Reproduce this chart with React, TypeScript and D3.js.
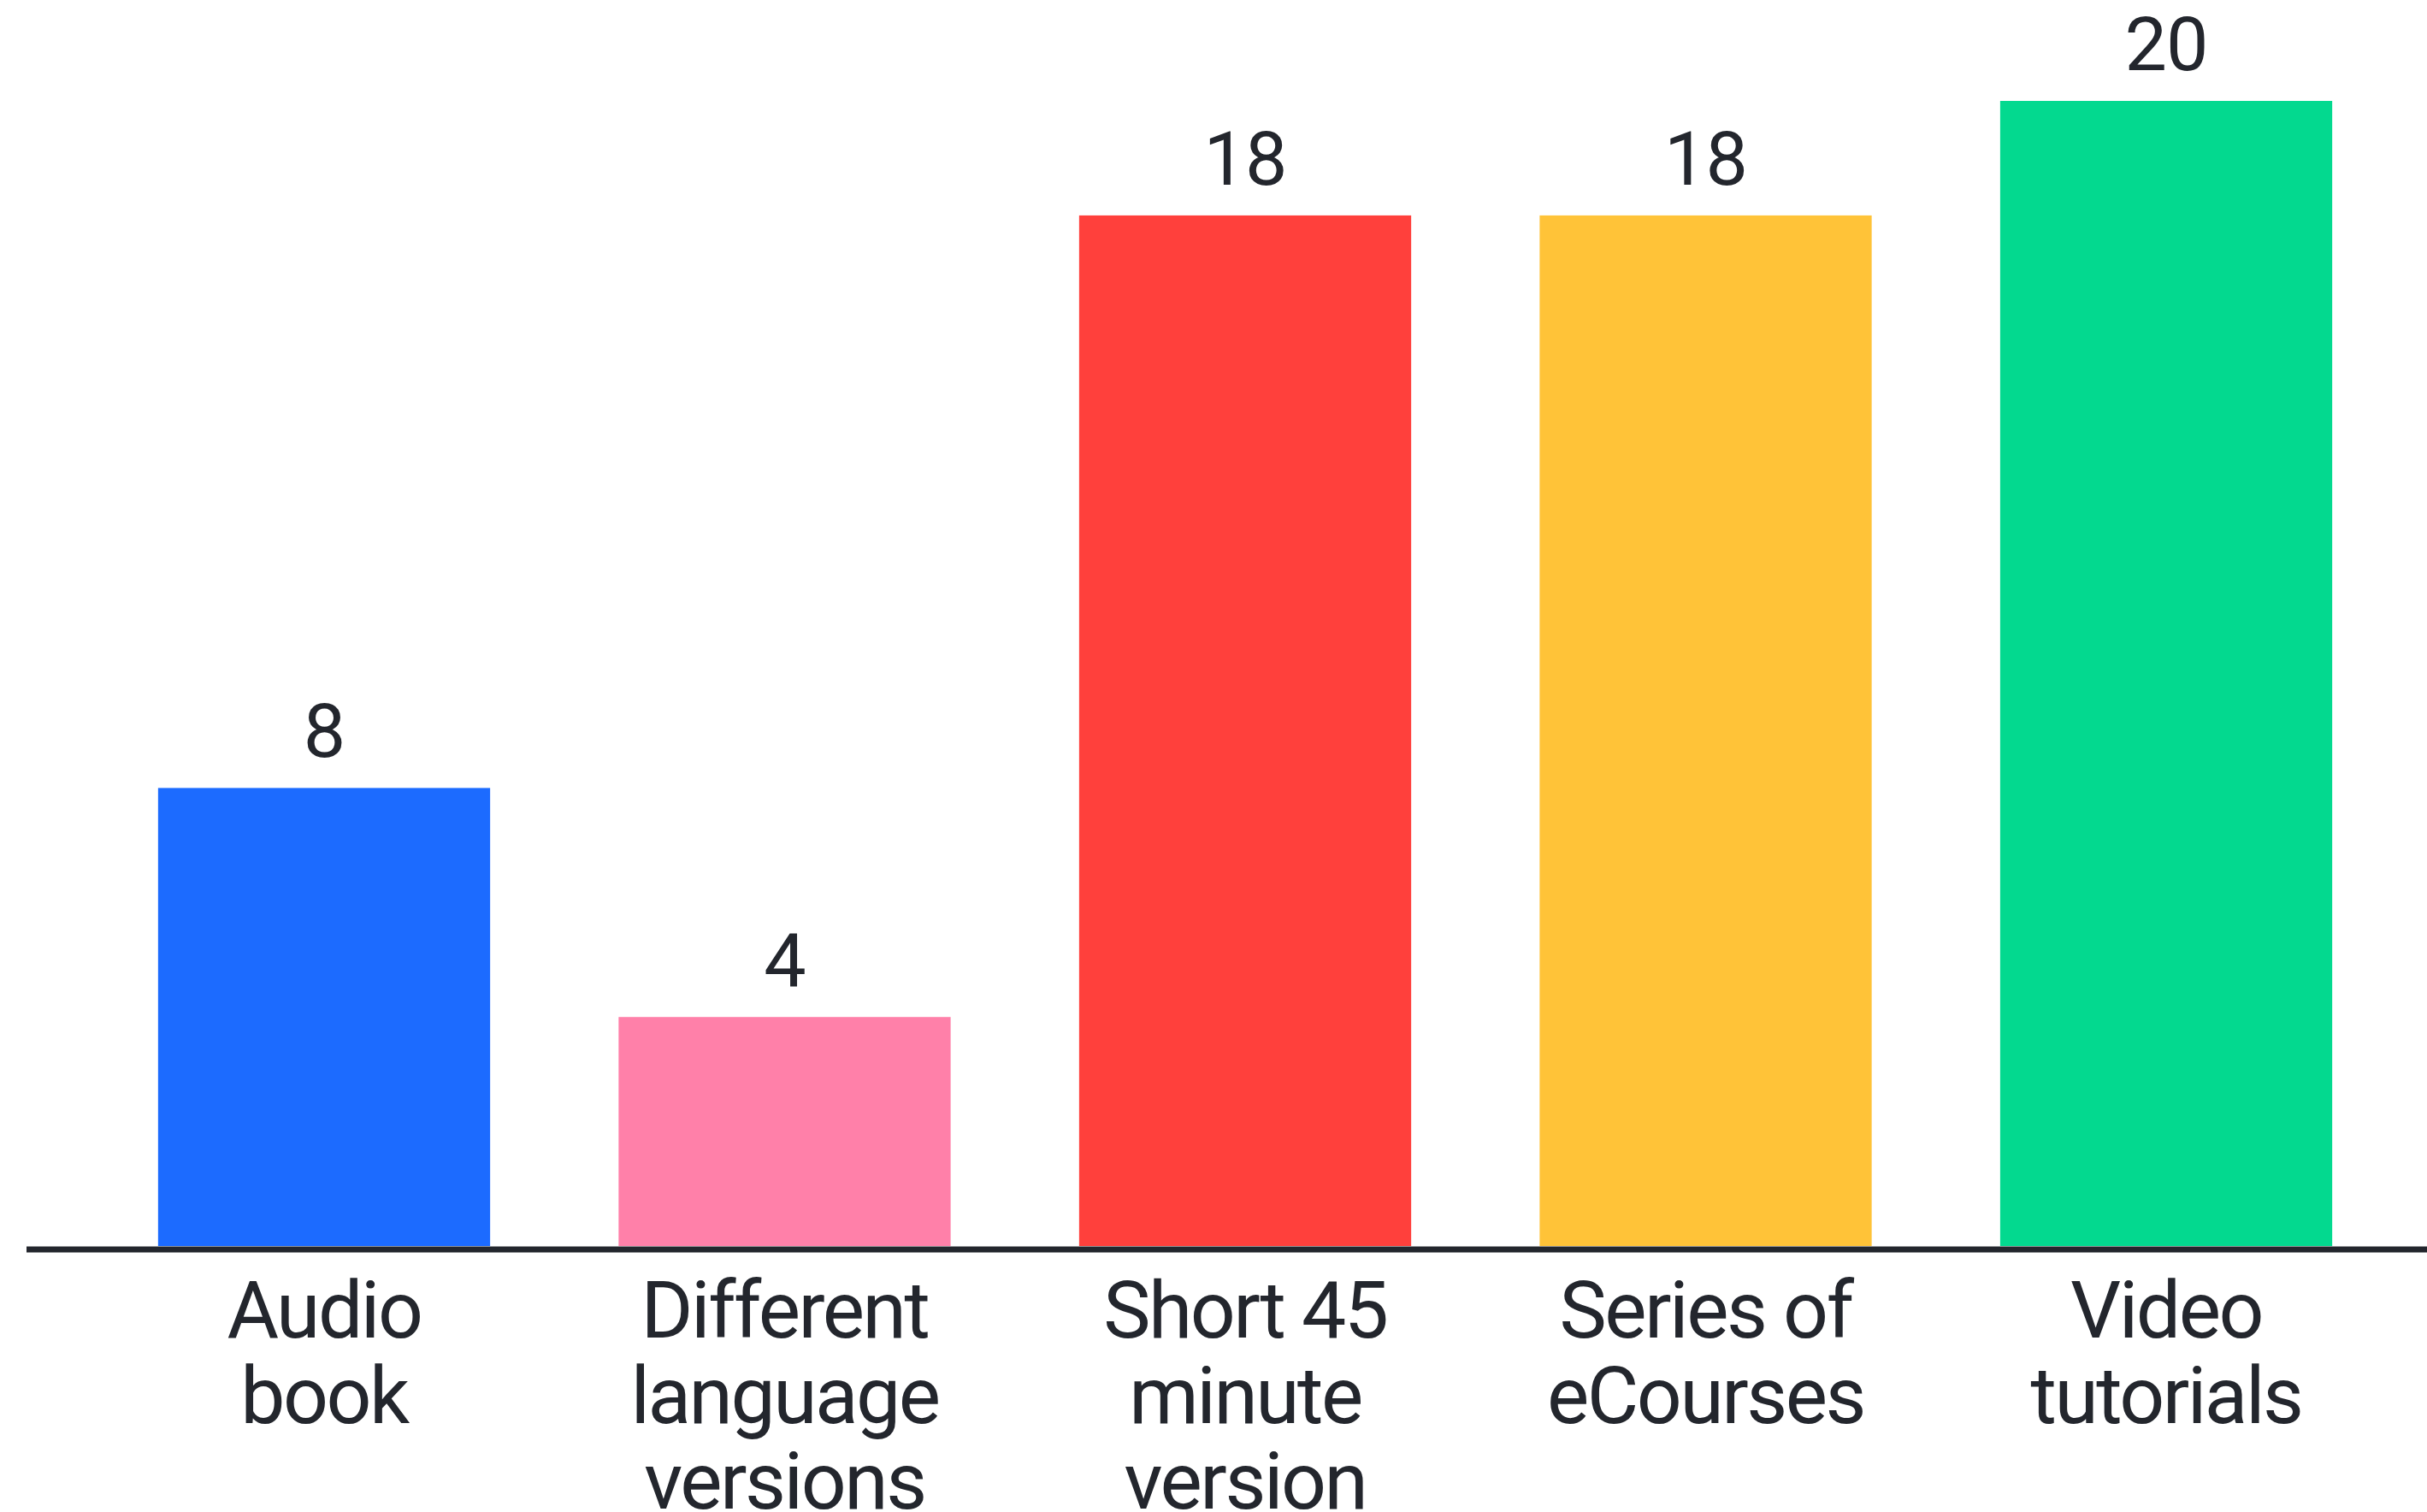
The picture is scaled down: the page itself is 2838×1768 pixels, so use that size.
import React from "react";
import * as d3 from "d3";

const categories: string[][] = [
  ["Audio", "book"],
  ["Different", "language", "versions"],
  ["Short 45", "minute", "version"],
  ["Series of", "eCourses"],
  ["Video", "tutorials"],
];
const values: number[] = [8, 4, 18, 18, 20];
const colors: string[] = ["#1c6bff", "#ff80a9", "#ff403c", "#ffc338", "#03d98f"];

const W = 2838;
const H = 1768;
const baseY = 1457;
const textColor = "#23262d";
const font = "Roboto, 'Open Sans', sans-serif";

export default function App() {
  const keys = categories.map((_, i) => String(i));
  const x = d3.scaleBand<string>().domain(keys).range([131, 2781]).paddingInner(0.279).paddingOuter(0.1);
  const y = d3.scaleLinear().domain([0, 20]).range([baseY, 118]);

  return (
    <svg width={W} height={H} style={{ position: "absolute", left: 0, top: 0, background: "#fff" }}>
      {values.map((v, i) => {
        const bx = x(String(i))!;
        const bw = x.bandwidth();
        return (
          <g key={i}>
            <rect x={bx} y={y(v)} width={bw} height={baseY - y(v)} fill={colors[i]} />
            <text
              x={bx + bw / 2}
              y={y(v) - 36}
              textAnchor="middle"
              fontFamily={font}
              fontSize={88}
              letterSpacing={-1}
              fill={textColor}
            >
              {v}
            </text>
            {categories[i].map((line, j) => (
              <text
                key={j}
                x={bx + bw / 2}
                y={1564 + j * 100}
                textAnchor="middle"
                fontFamily={font}
                fontSize={93}
                letterSpacing={-2.5}
                fill={textColor}
              >
                {line}
              </text>
            ))}
          </g>
        );
      })}
      <line x1={31} x2={W} y1={baseY + 4} y2={baseY + 4} stroke="#23262d" strokeWidth={7} />
    </svg>
  );
}
